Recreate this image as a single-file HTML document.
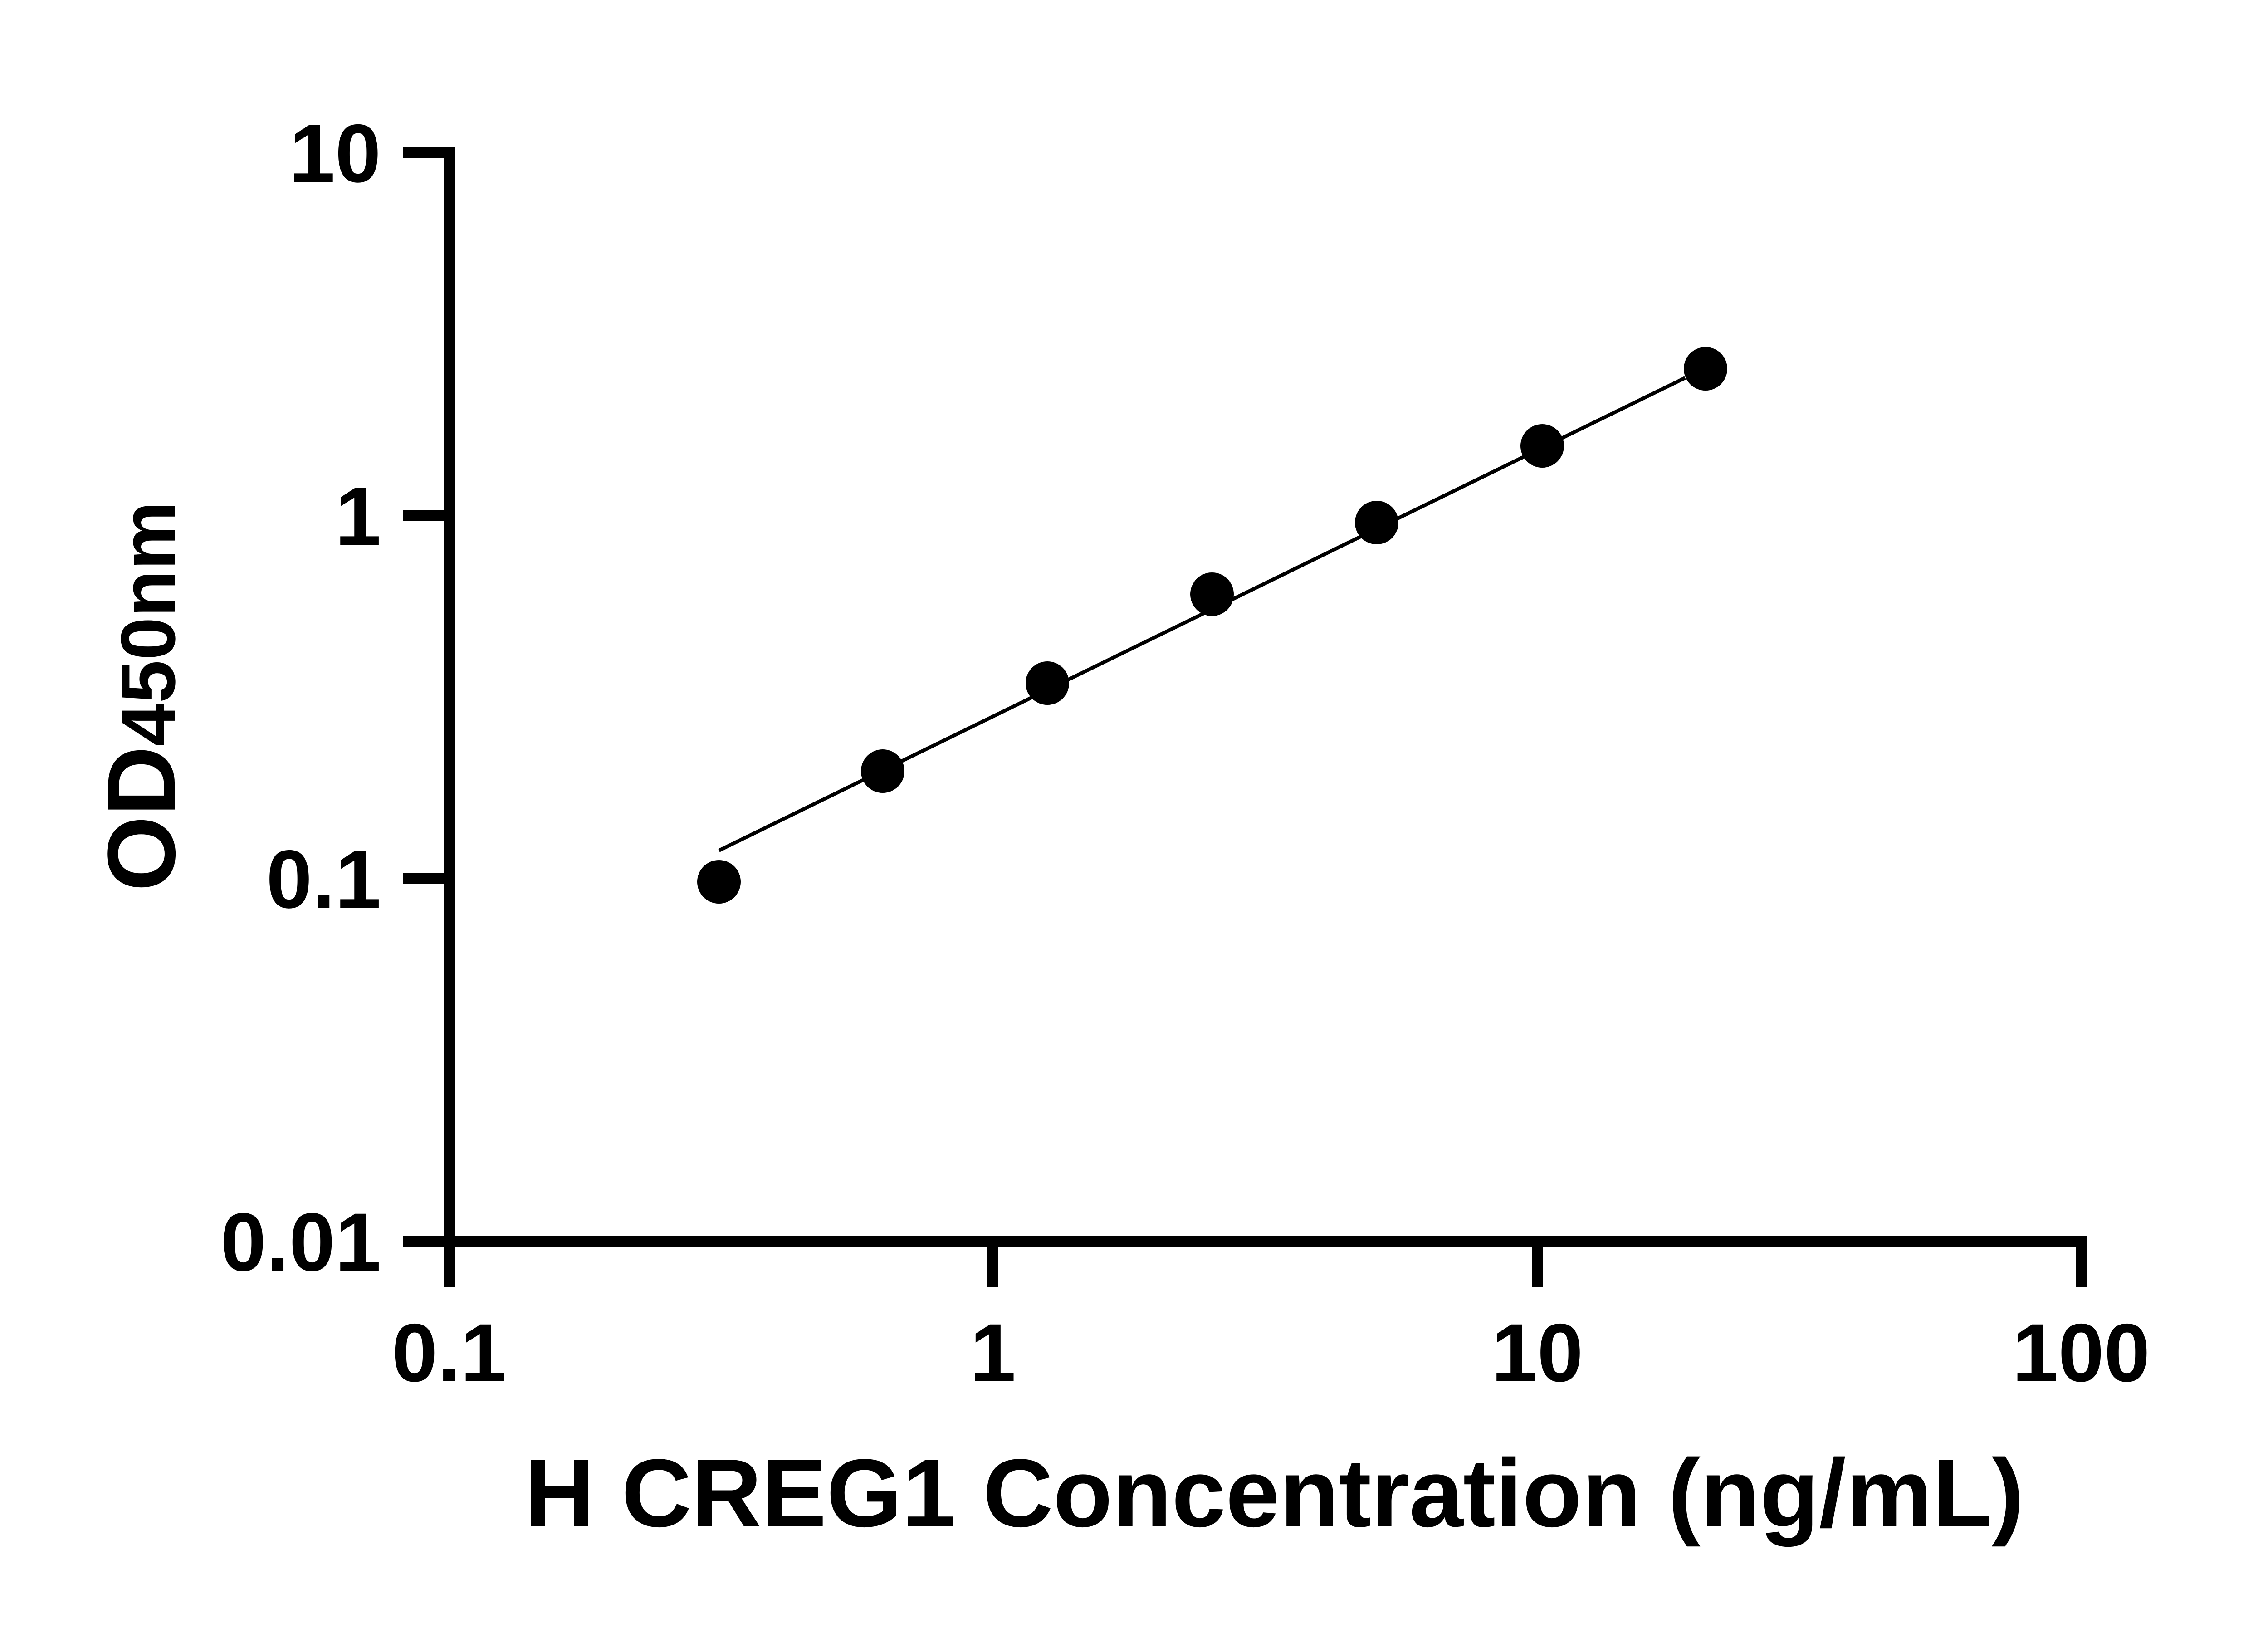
<!DOCTYPE html>
<html><head><meta charset="utf-8"><style>html,body{margin:0;padding:0;background:#fff}svg{display:block}</style></head>
<body>
<svg width="5142" height="3600" viewBox="0 0 5142 3600" xmlns="http://www.w3.org/2000/svg">
<rect width="5142" height="3600" fill="#fff"/>
<g stroke="#000" stroke-width="24" fill="none">
<line x1="990" y1="324" x2="990" y2="2838"/>
<line x1="978" y1="2736" x2="4600" y2="2736"/>
<line x1="888" y1="336" x2="1002" y2="336"/>
<line x1="888" y1="1136" x2="990" y2="1136"/>
<line x1="888" y1="1936" x2="990" y2="1936"/>
<line x1="888" y1="2736" x2="990" y2="2736"/>
<line x1="2189" y1="2736" x2="2189" y2="2838"/>
<line x1="3389" y1="2736" x2="3389" y2="2838"/>
<line x1="4588" y1="2724" x2="4588" y2="2838"/>
</g>
<g font-family="Liberation Sans, Arial, sans-serif" font-weight="bold" font-size="182" fill="#000">
<text x="840" y="401" text-anchor="end">10</text>
<text x="840" y="1201" text-anchor="end">1</text>
<text x="840" y="2001" text-anchor="end">0.1</text>
<text x="840" y="2801" text-anchor="end">0.01</text>
<text x="990" y="3045" text-anchor="middle">0.1</text>
<text x="2189" y="3045" text-anchor="middle">1</text>
<text x="3389" y="3045" text-anchor="middle">10</text>
<text x="4588" y="3045" text-anchor="middle">100</text>
<text x="1156" y="3365" font-size="213" textLength="3306" lengthAdjust="spacingAndGlyphs">H CREG1 Concentration (ng/mL)</text>
<text transform="translate(385,1965) rotate(-90)" font-size="213" textLength="860" lengthAdjust="spacingAndGlyphs">OD<tspan font-size="170">450nm</tspan></text>
</g>
<line x1="1585" y1="1875" x2="3715" y2="833" stroke="#000" stroke-width="8"/>
<g fill="#000">
<circle cx="1585" cy="1944" r="48"/>
<circle cx="1946" cy="1700" r="48"/>
<circle cx="2309" cy="1506" r="48"/>
<circle cx="2672" cy="1310" r="48"/>
<circle cx="3035" cy="1152" r="48"/>
<circle cx="3400" cy="983" r="48"/>
<circle cx="3760" cy="813" r="48"/>
</g>
</svg>
</body></html>
